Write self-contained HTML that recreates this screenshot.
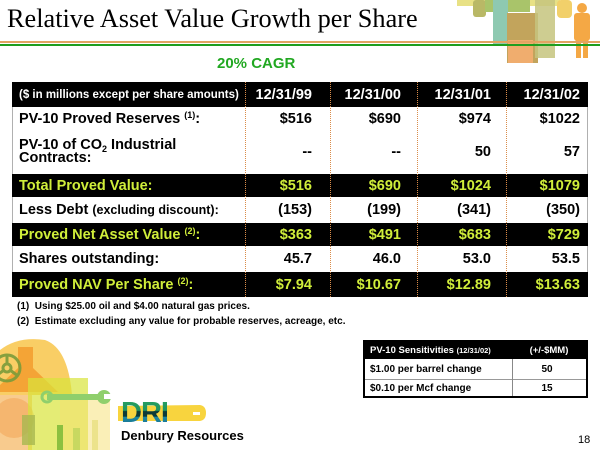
<!DOCTYPE html>
<html><head><meta charset="utf-8">
<style>
*{margin:0;padding:0;box-sizing:border-box}
html,body{width:600px;height:450px}
body{overflow:hidden;background:#fff;position:relative;font-family:"Liberation Sans",Arial,sans-serif;color:#000}
.a{position:absolute}
.row{position:absolute;left:12px;width:576px;border-left:1px solid #b0b0b0;border-right:1px solid #b0b0b0;background:#fff;z-index:2}
.row.b{background:#000;border-color:#000}
.c{position:absolute;top:0;height:100%;display:flex;align-items:center;font-weight:bold;font-size:14.5px;white-space:nowrap}
.c > span{display:block}
.l{left:6px}
.y{color:#d0ee3a}
.wt{color:#fff}
sup{font-size:9px;vertical-align:5px;line-height:0}
.sep{position:absolute;top:82px;height:215px;border-left:1px dotted #d98c4a;z-index:3}
.st{position:absolute;white-space:nowrap;font-weight:bold;font-size:10px}
</style></head><body>

<svg class="a" style="left:0;top:0;z-index:0" width="600" height="450" viewBox="0 0 600 450">
  <defs>
    <linearGradient id="g" x1="0" y1="0" x2="0" y2="1">
      <stop offset="0" stop-color="#2aa35e"/>
      <stop offset="0.42" stop-color="#1f9462"/>
      <stop offset="0.45" stop-color="#0c3b38"/>
      <stop offset="0.6" stop-color="#0c3b38"/>
      <stop offset="0.63" stop-color="#1b86a0"/>
      <stop offset="1" stop-color="#176c8a"/>
    </linearGradient>
  </defs>
  <!-- top right decoration -->
  <rect x="457" y="0" width="103" height="6" fill="#e4dc70" opacity="0.85"/>
  <rect x="473" y="0" width="13" height="17" rx="3" fill="#b9b866"/>
  <rect x="485" y="0" width="45" height="12" fill="#a9c46a"/>
  <rect x="493" y="0" width="15" height="45" fill="#8ec9b1"/>
  <rect x="507" y="13" width="31" height="50" fill="#c2a45c"/>
  <rect x="508" y="40" width="25" height="23" fill="#f0ad6e"/>
  <rect x="535" y="0" width="20" height="58" fill="#c6c47e" opacity="0.85"/>
  <rect x="557" y="0" width="15" height="18" rx="4" fill="#f2d06a"/>
  <g fill="#f4a845">
    <circle cx="582" cy="8" r="5"/>
    <rect x="574" y="13" width="16" height="28" rx="3"/>
    <rect x="576" y="40" width="5" height="18"/>
    <rect x="583" y="40" width="5" height="18"/>
  </g>
  <!-- bottom left decoration -->
  <path d="M0,350 Q18,336 45,340 Q68,348 72,395 L0,395 Z" fill="#f8c64a" opacity="0.85"/>
  <path d="M18,347 L33,347 L33,368 L58,392 L0,392 L0,385 L18,368 Z" fill="#f29a2a" opacity="0.8"/>
  <rect x="0" y="395" width="32" height="55" fill="#f7c27a" opacity="0.85"/>
  <circle cx="14" cy="418" r="20" fill="#f3a85a" opacity="0.6"/>
  <rect x="28" y="378" width="60" height="72" fill="#d8e43a" opacity="0.7"/>
  <rect x="60" y="395" width="50" height="55" fill="#f5e070" opacity="0.5"/>
  <rect x="22" y="415" width="13" height="30" fill="#a8b850" opacity="0.8"/>
  <rect x="57" y="425" width="6" height="25" fill="#8cc040"/>
  <rect x="73" y="428" width="7" height="22" fill="#c8d860"/>
  <rect x="92" y="420" width="6" height="30" fill="#e8e080" opacity="0.8"/>
  <g stroke="#7a9c3a" stroke-width="3" fill="none" opacity="0.9">
    <circle cx="7" cy="368" r="13"/>
    <circle cx="7" cy="368" r="4"/>
    <line x1="7" y1="364" x2="7" y2="355"/>
    <line x1="10" y1="370" x2="18" y2="376"/>
    <line x1="4" y1="370" x2="-4" y2="376"/>
  </g>
  <g fill="#8fcf6c">
    <rect x="47" y="394" width="55" height="6"/>
    <circle cx="104" cy="397" r="7"/>
  </g>
  <circle cx="47" cy="397" r="5" fill="none" stroke="#8fcf6c" stroke-width="3"/>
  <rect x="104" y="394" width="8" height="5" fill="#fff"/>
  <!-- DRI logo -->
  <path d="M118,406 L200,405 Q206,406 206,413 Q206,420 200,421 L118,421 Z" fill="#f8d43e"/>
  <rect x="193" y="412" width="7" height="3" fill="#fff"/>
  <text x="121" y="422" font-family="Liberation Sans, Arial, sans-serif" font-weight="bold" font-size="29" fill="url(#g)" letter-spacing="-1">DRI</text>
</svg>

<div class="a" style="left:7px;top:6px;font-family:'Liberation Serif','Times New Roman',serif;font-size:26.3px;line-height:26px;white-space:nowrap;z-index:1">Relative Asset Value Growth per Share</div>
<div class="a" style="left:0;top:41px;width:600px;height:1.5px;background:#e2a462;z-index:1"></div>
<div class="a" style="left:0;top:43.5px;width:600px;height:2px;background:#1f9e1f;z-index:1"></div>
<div class="a" style="left:217px;top:56px;font-size:15px;line-height:15px;font-weight:bold;color:#22a822;white-space:nowrap">20% CAGR</div>

<!-- main table -->
<div class="row b" style="top:82px;height:25px">
  <span class="c l wt" style="font-size:11.5px"><span>($ in millions except per share amounts)</span></span>
  <span class="c wt" style="right:275px"><span>12/31/99</span></span>
  <span class="c wt" style="right:186px"><span>12/31/00</span></span>
  <span class="c wt" style="right:96px"><span>12/31/01</span></span>
  <span class="c wt" style="right:7px"><span>12/31/02</span></span>
</div>
<div class="row" style="top:107px;height:23px">
  <span class="c l"><span>PV-10 Proved Reserves <sup>(1)</sup>:</span></span>
  <span class="c" style="right:275px"><span>$516</span></span>
  <span class="c" style="right:186px"><span>$690</span></span>
  <span class="c" style="right:96px"><span>$974</span></span>
  <span class="c" style="right:7px"><span>$1022</span></span>
</div>
<div class="row" style="top:130px;height:44px">
  <span class="c l"><span style="line-height:13.5px">PV-10 of CO<sub style="font-size:9px;vertical-align:-3px;line-height:0">2</sub> Industrial<br>Contracts:</span></span>
  <span class="c" style="right:275px"><span>--</span></span>
  <span class="c" style="right:186px"><span>--</span></span>
  <span class="c" style="right:96px"><span>50</span></span>
  <span class="c" style="right:7px"><span>57</span></span>
</div>
<div class="row b" style="top:174px;height:23px">
  <span class="c l y"><span>Total Proved Value:</span></span>
  <span class="c y" style="right:275px"><span>$516</span></span>
  <span class="c y" style="right:186px"><span>$690</span></span>
  <span class="c y" style="right:96px"><span>$1024</span></span>
  <span class="c y" style="right:7px"><span>$1079</span></span>
</div>
<div class="row" style="top:197px;height:26px">
  <span class="c l"><span>Less Debt <span style="font-size:12.5px">(excluding discount):</span></span></span>
  <span class="c" style="right:275px"><span>(153)</span></span>
  <span class="c" style="right:186px"><span>(199)</span></span>
  <span class="c" style="right:96px"><span>(341)</span></span>
  <span class="c" style="right:7px"><span>(350)</span></span>
</div>
<div class="row b" style="top:223px;height:23px">
  <span class="c l y"><span>Proved Net Asset Value <sup>(2)</sup>:</span></span>
  <span class="c y" style="right:275px"><span>$363</span></span>
  <span class="c y" style="right:186px"><span>$491</span></span>
  <span class="c y" style="right:96px"><span>$683</span></span>
  <span class="c y" style="right:7px"><span>$729</span></span>
</div>
<div class="row" style="top:246px;height:26px">
  <span class="c l"><span>Shares outstanding:</span></span>
  <span class="c" style="right:275px"><span>45.7</span></span>
  <span class="c" style="right:186px"><span>46.0</span></span>
  <span class="c" style="right:96px"><span>53.0</span></span>
  <span class="c" style="right:7px"><span>53.5</span></span>
</div>
<div class="row b" style="top:272px;height:25px">
  <span class="c l y"><span>Proved NAV Per Share <sup>(2)</sup>:</span></span>
  <span class="c y" style="right:275px"><span>$7.94</span></span>
  <span class="c y" style="right:186px"><span>$10.67</span></span>
  <span class="c y" style="right:96px"><span>$12.89</span></span>
  <span class="c y" style="right:7px"><span>$13.63</span></span>
</div>
<div class="sep" style="left:245px"></div>
<div class="sep" style="left:330px"></div>
<div class="sep" style="left:417px"></div>
<div class="sep" style="left:506px"></div>

<!-- footnotes -->
<div class="a" style="left:17px;top:301px;font-size:10px;line-height:12px;font-weight:bold;white-space:nowrap">(1)&nbsp; Using $25.00 oil and $4.00 natural gas prices.</div>
<div class="a" style="left:17px;top:316px;font-size:10px;line-height:12px;font-weight:bold;white-space:nowrap">(2)&nbsp; Estimate excluding any value for probable reserves, acreage, etc.</div>

<!-- sensitivity table -->
<div class="a" style="left:363px;top:340px;width:225px;height:58px;border:2px solid #000;background:#fff;z-index:2">
  <div class="a" style="left:0;top:0;width:221px;height:17px;background:#000"></div>
  <div class="a" style="left:0;top:37px;width:221px;height:1px;background:#999"></div>
  <div class="a" style="left:147px;top:17px;width:1px;height:37px;background:#888"></div>
  <div class="st" style="left:5px;top:2px;line-height:13px;color:#fff;font-size:9.5px">PV-10 Sensitivities <span style="font-size:7.5px">(12/31/02)</span></div>
  <div class="st" style="left:147px;width:74px;text-align:center;top:2px;line-height:13px;color:#fff;font-size:9.5px">(+/-$MM)</div>
  <div class="st" style="left:5px;top:21px;line-height:13px">$1.00 per barrel change</div>
  <div class="st" style="left:147px;width:70px;text-align:center;top:21px;line-height:13px">50</div>
  <div class="st" style="left:5px;top:40px;line-height:13px">$0.10 per Mcf change</div>
  <div class="st" style="left:147px;width:70px;text-align:center;top:40px;line-height:13px">15</div>
</div>

<div class="a" style="left:121px;top:429px;font-size:13px;line-height:13px;font-weight:bold;white-space:nowrap;z-index:2">Denbury Resources</div>
<div class="a" style="left:578px;top:435px;font-size:11px;line-height:11px;white-space:nowrap">18</div>

</body></html>
